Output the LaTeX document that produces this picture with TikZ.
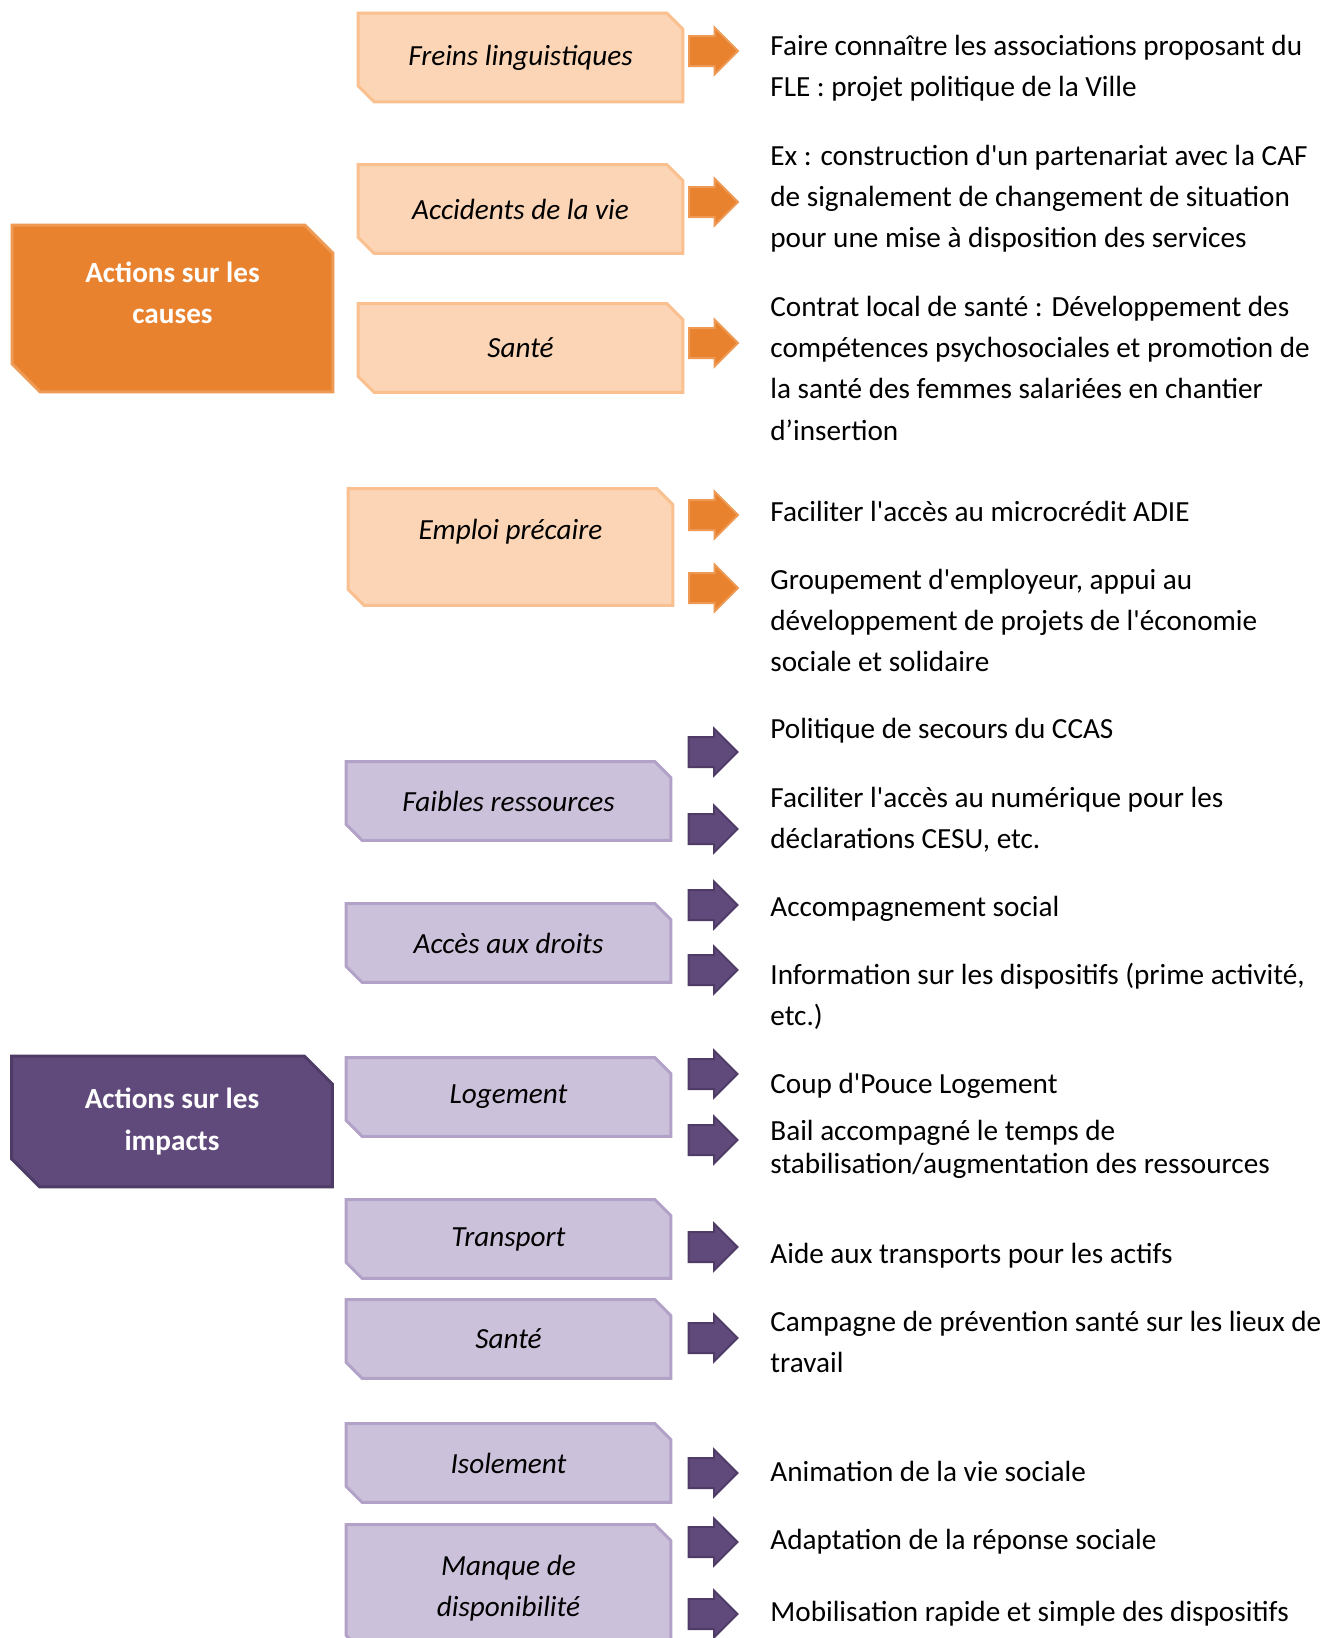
\documentclass[tikz,border=0pt]{standalone}
\usepackage{fontspec}
\setmainfont{Carlito}[Ligatures=TeXOff]
\usetikzlibrary{shapes.arrows,backgrounds}
\definecolor{causeDark}{HTML}{E8822F}
\definecolor{causeRim}{HTML}{EE9A55}
\definecolor{causeLight}{HTML}{FBD5B5}
\definecolor{causeLightRim}{HTML}{FAC090}
\definecolor{impactDark}{HTML}{604A7B}
\definecolor{impactRim}{HTML}{4E3C66}
\definecolor{impactLight}{HTML}{CCC1DA}
\definecolor{impactLightRim}{HTML}{B3A2C7}
\newcommand{\myfonttext}{\fontsize{14.6}{20.7}\selectfont}
%Frame with the north east and south west corners cut off
\newcommand{\cutframe}[3]{
	\draw [#3] (#1.north west) -- ([xshift=-#2]#1.north east) -- ([yshift=-#2]#1.north east)
		-- (#1.south east) -- ([xshift=#2]#1.south west) -- ([yshift=#2]#1.south west) -- cycle;
}
\tikzset{
	cutBox/.style={rectangle, inner sep=0pt, align=center, font=\myfonttext},
	causeBig/.style={cutBox, text=white, font=\myfonttext\bfseries,
		minimum width=160pt, minimum height=83pt},
	impactBig/.style={causeBig},
	causeItem/.style={cutBox, font=\myfonttext\itshape, minimum width=162pt, minimum height=44pt},
	impactItem/.style={causeItem, minimum height=39pt},
	causeBigFrame/.style={fill=causeDark, draw=causeRim, line width=1.5pt},
	impactBigFrame/.style={fill=impactDark, draw=impactRim, line width=1.5pt},
	causeItemFrame/.style={fill=causeLight, draw=causeLightRim, line width=1.5pt},
	impactItemFrame/.style={fill=impactLight, draw=impactLightRim, line width=1.5pt},
	causeArrow/.style={single arrow, inner xsep=0pt, inner ysep=7pt, minimum height=24.5pt,
		minimum width=22.5pt, single arrow head extend=4.25pt,
		fill=causeDark, draw=causeRim, line width=1pt},
	impactArrow/.style={causeArrow, fill=impactDark, draw=impactRim},
	actionText/.style={anchor=base west, inner sep=0pt, align=left, font=\myfonttext}
}
\begin{document}
\begin{tikzpicture}[x=0.5pt,y=-0.5pt]
	%Page frame
	\useasboundingbox (0,0) rectangle (1329,1638);
	\clip (0,0) rectangle (1329,1638);
	%Big boxes on the left
	\node [causeBig, text depth=15.5pt] (causes) at (172.5,308.5) {Actions sur les\\causes};
	\node [impactBig, minimum height=65pt] (impacts) at (172,1121.5) {Actions sur les\\impacts};
	%Causes
	\node [causeItem] (freins) at (520.5,57.5) {Freins linguistiques};
	\node [causeItem] (accidents) at (520.5,209) {Accidents de la vie};
	\node [causeItem] (santeC) at (520.5,348) {Santé};
	\node [causeItem, minimum height=58pt, text depth=18pt] (emploi) at (510.5,547) {Emploi précaire};
	%Impacts
	\node [impactItem] (faibles) at (508.5,801) {Faibles ressources};
	\node [impactItem] (acces) at (508.5,943) {Accès aux droits};
	\node [impactItem] (logement) at (508.5,1097) {Logement};
	\node [impactItem] (transport) at (508.5,1239) {Transport};
	\node [impactItem] (santeI) at (508.5,1339) {Santé};
	\node [impactItem] (isolement) at (508.5,1463) {Isolement};
	\node [impactItem, minimum height=63pt] (manque) at (508.5,1588) {Manque de\\disponibilité};
	%Frames behind the boxes
	\begin{scope}[on background layer]
		\fill [white] (0,0) rectangle (1329,1638);
		\cutframe{causes}{14pt}{causeBigFrame}
		\cutframe{impacts}{14pt}{impactBigFrame}
		\foreach \n in {freins,accidents,santeC,emploi}
			{\cutframe{\n}{8pt}{causeItemFrame}}
		\foreach \n in {faibles,acces,logement,transport,santeI,isolement,manque}
			{\cutframe{\n}{8pt}{impactItemFrame}}
	\end{scope}
	%Arrows
	\node [causeArrow] (arrFLE) at (706,51) {};
	\node [causeArrow] (arrCAF) at (706,202) {};
	\node [causeArrow] (arrCLS) at (706,343) {};
	\node [causeArrow] (arrADIE) at (706,515) {};
	\node [causeArrow] (arrGroupement) at (706,588) {};
	\node [impactArrow] (arrCCAS) at (705.5,752) {};
	\node [impactArrow] (arrNumerique) at (705.5,829) {};
	\node [impactArrow] (arrAccomp) at (705.5,905) {};
	\node [impactArrow] (arrInfo) at (705.5,970) {};
	\node [impactArrow] (arrCoup) at (705.5,1074) {};
	\node [impactArrow] (arrBail) at (705.5,1140) {};
	\node [impactArrow] (arrTransport) at (705.5,1247) {};
	\node [impactArrow] (arrPrevention) at (705.5,1338) {};
	\node [impactArrow] (arrAnimation) at (705.5,1473) {};
	\node [impactArrow] (arrAdaptation) at (705.5,1542) {};
	\node [impactArrow] (arrMobilisation) at (705.5,1614) {};
	%Actions on the right (base = last line)
	\node [actionText] (actFLE) at (770,96.4) {Faire connaître les associations proposant du\\FLE : projet politique de la Ville};
	\node [actionText] (actCAF) at (770,247.8) {Ex : construction d'un partenariat avec la CAF\\de signalement de changement de situation\\pour une mise à disposition des services};
	\node [actionText] (actCLS) at (770,440.2) {Contrat local de santé : Développement des\\compétences psychosociales et promotion de\\la santé des femmes salariées en chantier\\d’insertion};
	\node [actionText] (actADIE) at (770,521) {Faciliter l'accès au microcrédit ADIE};
	\node [actionText] (actGroupement) at (770,671.8) {Groupement d'employeur, appui au\\développement de projets de l'économie\\sociale et solidaire};
	\node [actionText] (actCCAS) at (770,738) {Politique de secours du CCAS};
	\node [actionText] (actNumerique) at (770,848.4) {Faciliter l'accès au numérique pour les\\déclarations CESU, etc.};
	\node [actionText] (actAccomp) at (770,916) {Accompagnement social};
	\node [actionText] (actInfo) at (770,1025.4) {Information sur les dispositifs (prime activité,\\etc.)};
	\node [actionText] (actCoup) at (770,1093) {Coup d'Pouce Logement};
	\node [actionText] (actBail) at (770,1173) {Bail accompagné le temps de\\[-4.2pt]stabilisation/augmentation des ressources};
	\node [actionText] (actTransport) at (770,1263) {Aide aux transports pour les actifs};
	\node [actionText] (actPrevention) at (770,1372.4) {Campagne de prévention santé sur les lieux de\\travail};
	\node [actionText] (actAnimation) at (770,1481) {Animation de la vie sociale};
	\node [actionText] (actAdaptation) at (770,1549) {Adaptation de la réponse sociale};
	\node [actionText] (actMobilisation) at (770,1621) {Mobilisation rapide et simple des dispositifs};
\end{tikzpicture}
\end{document}
